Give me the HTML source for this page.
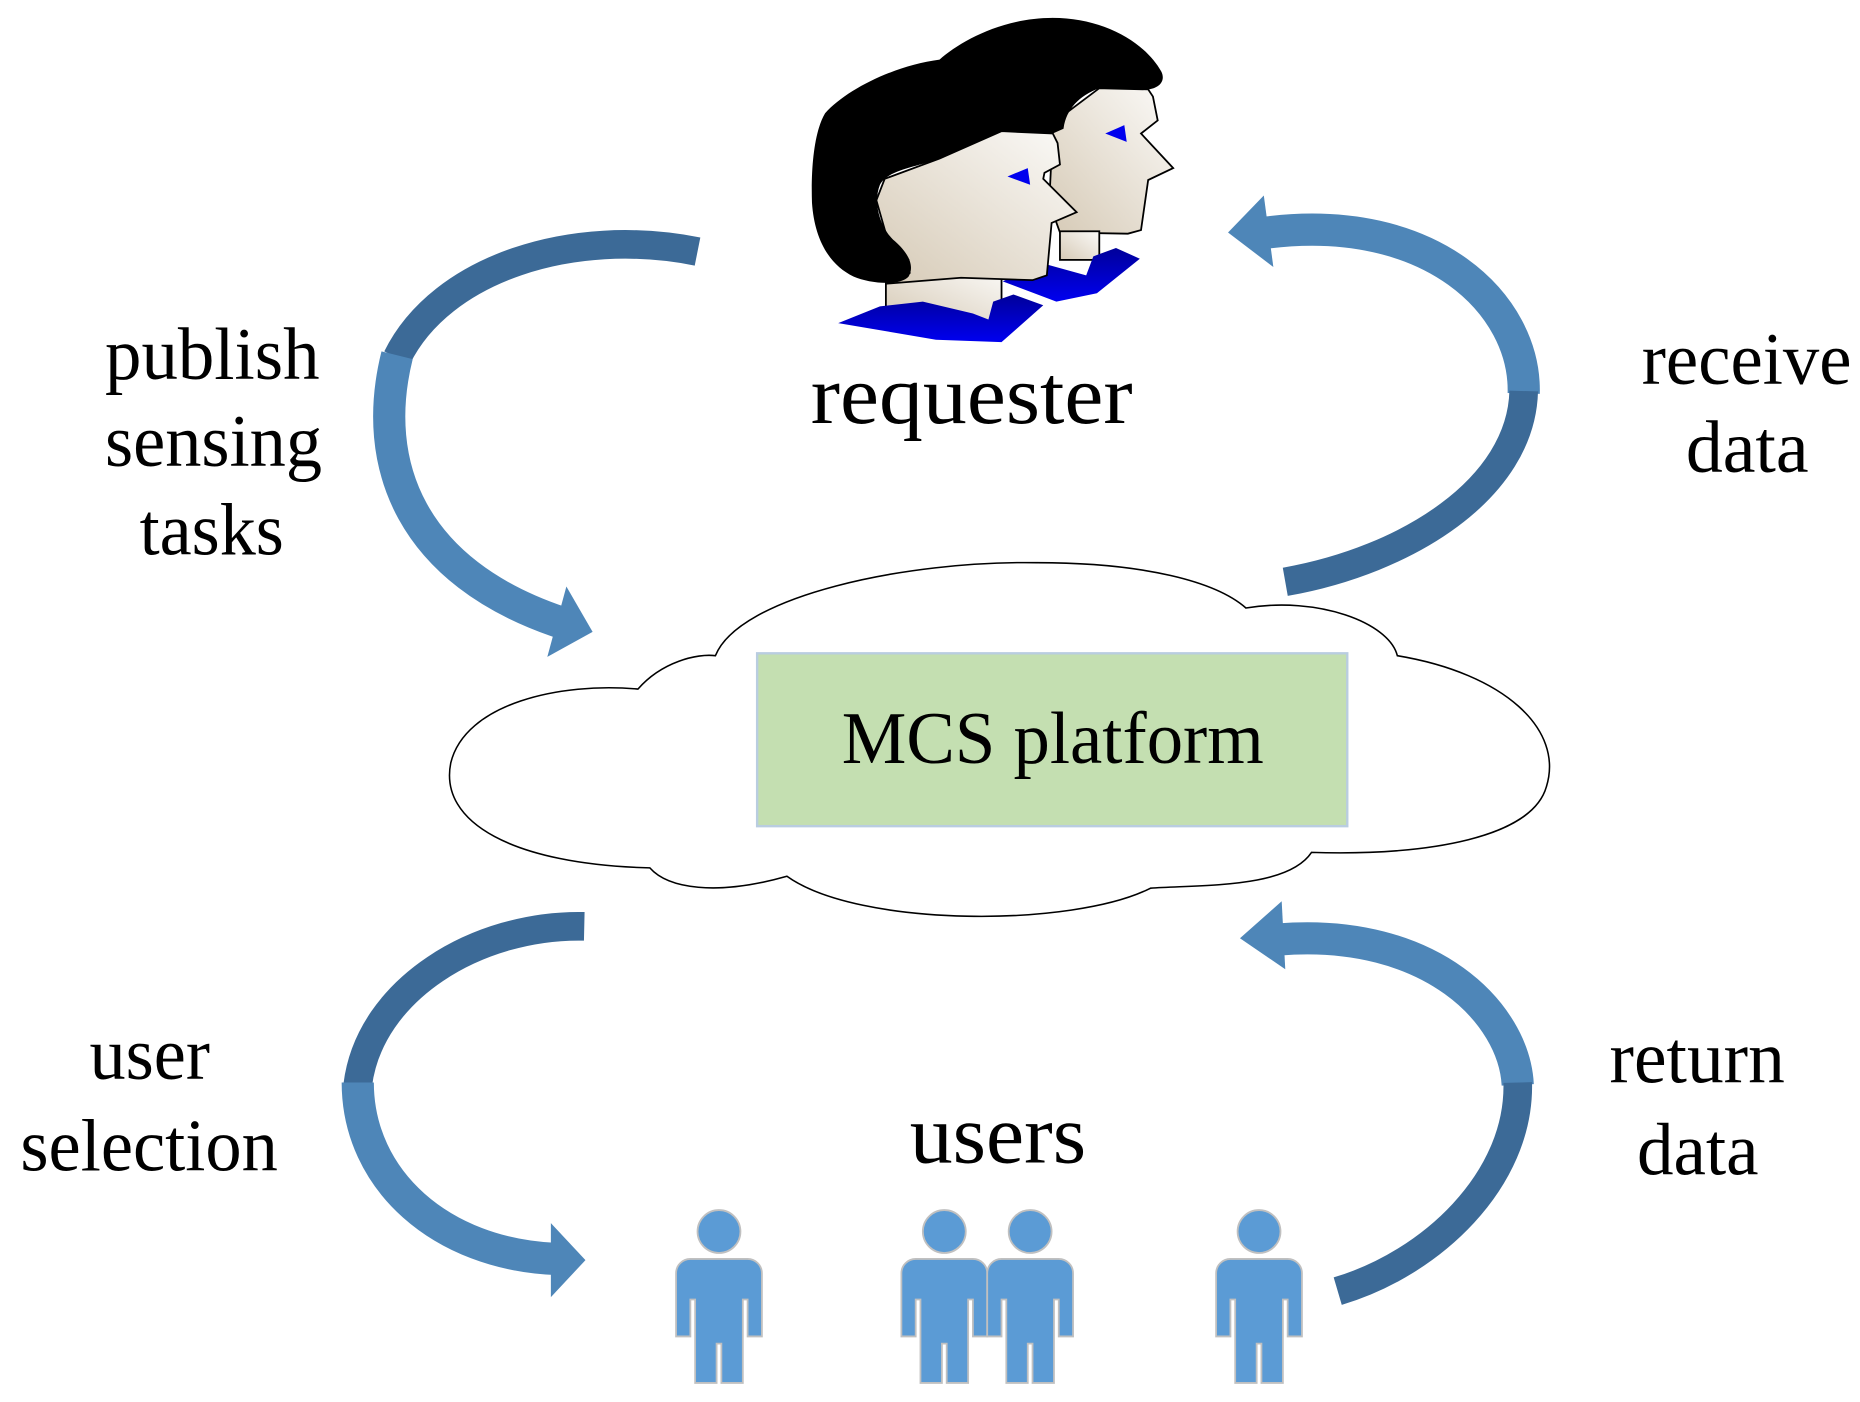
<!DOCTYPE html>
<html><head><meta charset="utf-8"><style>
html,body{margin:0;padding:0;background:#fff;}
svg{display:block;}
text{font-family:"Liberation Serif","Times New Roman",serif;fill:#000;}
</style></head><body>
<svg width="1860" height="1402" viewBox="0 0 1560 1176" xmlns="http://www.w3.org/2000/svg">
<defs>
<linearGradient id="skin" x1="0" y1="1" x2="1" y2="0">
<stop offset="0" stop-color="#d6cab6"/><stop offset="1" stop-color="#fbfaf8"/></linearGradient>
<linearGradient id="blue" x1="0" y1="0" x2="0" y2="1">
<stop offset="0" stop-color="#00009a"/><stop offset="1" stop-color="#0000f0"/></linearGradient>
</defs>

<!-- back head -->
<polygon points="883,110 894,95 922,74 963,75 967,81 971,101 957,112 984,141 963,151 957,193 946,196 889,195 880,170" fill="url(#skin)" stroke="#000" stroke-width="1.5"/>
<rect x="889" y="194" width="33" height="24" fill="url(#skin)" stroke="#000" stroke-width="1.5"/>
<polygon points="841,236 875,221 911,231 917,215 936,208 956,217 920,246 886,253" fill="url(#blue)"/>
<path d="M788,50 C805,35 840,15 883,15 C925,15 960,35 974,60 C978,68 972,74 963,75 L922,74 C905,80 894,92 892,108 L883,112 L840,110 L788,133 Z" fill="#000"/>
<polygon points="927,112 943,105 945,119" fill="#0000ee"/>

<!-- front head -->
<rect x="743" y="225" width="97" height="45" fill="url(#skin)" stroke="#000" stroke-width="1.5"/>
<polygon points="742,150 788,133 840,110 883,112 887,120 889,138 876,145 875,150 903,178 882,187 878,231 866,235 806,233 743,238 763,229 762,218 743,196 735,168" fill="url(#skin)" stroke="#000" stroke-width="1.5"/>
<polygon points="703,271 738,257 774,253 816,263 829,268 833,253 850,247 875,256 840,287 785,285" fill="url(#blue)"/>
<path d="M692,95 C710,75 750,55 788,50 L883,15 L883,112 L840,110 C815,112 800,130 788,133 C770,140 745,142 738,155 C732,170 738,190 749,201 C760,210 768,222 762,232 C755,240 730,238 716,232 C695,222 683,200 681,170 C680,140 683,110 692,95 Z" fill="#000"/>
<polygon points="845,148 862,141 864,155" fill="#0000ee"/>

<text x="680" y="355" font-size="70" textLength="270" lengthAdjust="spacingAndGlyphs">requester</text>

<!-- cloud -->
<path d="M535,578 C555,555 585,548 600,550 C620,500 760,470 870,472 C960,472 1020,488 1045,510 C1105,500 1165,522 1172,550 C1262,565 1312,612 1297,660 C1285,702 1200,718 1100,715 C1080,745 1010,742 965,745 C900,778 720,778 660,735 C600,752 560,745 545,728 C430,725 368,690 378,640 C390,590 470,572 535,578 Z" fill="#fff" stroke="#000" stroke-width="1.3"/>
<rect x="635" y="548" width="495" height="145" fill="#c4dfb1" stroke="#b9cde0" stroke-width="2"/>
<text x="706" y="640" font-size="62" textLength="354" lengthAdjust="spacingAndGlyphs">MCS platform</text>

<!-- arrows -->
<g fill="none" stroke-linecap="butt">
<path d="M585,211 C480,190 370,225 333,300" stroke="#3c6a97" stroke-width="24"/>
<path d="M333,298 C310,390 345,480 470,522" stroke="#4e86b8" stroke-width="27"/>
<path d="M1063,195 C1200,178 1280,255 1278,330" stroke="#4e86b8" stroke-width="27"/>
<path d="M1278,328 C1276,410 1180,470 1078,488" stroke="#3c6a97" stroke-width="24"/>
<path d="M490,777 C400,775 310,830 300,910" stroke="#3c6a97" stroke-width="24"/>
<path d="M300,908 C300,990 370,1052 466,1056" stroke="#4e86b8" stroke-width="27"/>
<path d="M1073,788 C1200,778 1270,850 1273,910" stroke="#4e86b8" stroke-width="27"/>
<path d="M1273,908 C1275,990 1200,1060 1122,1083" stroke="#3c6a97" stroke-width="24"/>
</g>
<g fill="#4e86b8">
<polygon points="475,492 497,530 459,551"/>
<polygon points="1030,195 1060,164 1068,224"/>
<polygon points="462,1026 491,1057 462,1088"/>
<polygon points="1040,787 1075,756 1078,813"/>
</g>

<!-- labels -->
<text x="88" y="318" font-size="62" textLength="180" lengthAdjust="spacingAndGlyphs">publish</text>
<text x="88" y="391" font-size="62" textLength="182" lengthAdjust="spacingAndGlyphs">sensing</text>
<text x="117" y="465" font-size="62" textLength="121" lengthAdjust="spacingAndGlyphs">tasks</text>
<text x="1377" y="322" font-size="62" textLength="176" lengthAdjust="spacingAndGlyphs">receive</text>
<text x="1414" y="396" font-size="62" textLength="103" lengthAdjust="spacingAndGlyphs">data</text>
<text x="75" y="905" font-size="62" textLength="101" lengthAdjust="spacingAndGlyphs">user</text>
<text x="17" y="982" font-size="62" textLength="216" lengthAdjust="spacingAndGlyphs">selection</text>
<text x="1350" y="908" font-size="62" textLength="147" lengthAdjust="spacingAndGlyphs">return</text>
<text x="1373" y="985" font-size="62" textLength="102" lengthAdjust="spacingAndGlyphs">data</text>
<text x="763" y="975" font-size="70" textLength="148" lengthAdjust="spacingAndGlyphs">users</text>

<!-- people -->
<defs>
<g id="p">
<circle cx="0" cy="0" r="18"/>
<path d="M-24,23 H24 A12,12 0 0 1 36,35 V88 H24 V57 H20 V127 H2 V94 H-2 V127 H-20 V57 H-24 V88 H-36 V35 A12,12 0 0 1 -24,23 Z"/>
</g>
</defs>
<g fill="#5b9bd5" stroke="#c0c0c0" stroke-width="1.5">
<use href="#p" x="603" y="1033"/>
<use href="#p" x="792" y="1033"/>
<use href="#p" x="864" y="1033"/>
<use href="#p" x="1056" y="1033"/>
</g>
</svg>
</body></html>
